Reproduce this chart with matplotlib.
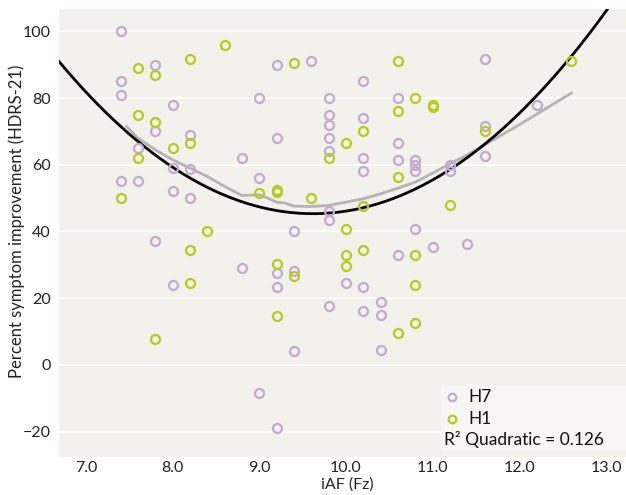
import numpy as np
import matplotlib
matplotlib.use("Agg")
import matplotlib.pyplot as plt
from matplotlib.patches import Rectangle

plt.rcParams['font.family'] = ['Lato', 'DejaVu Sans']

# iAF (Fz) vs percent improvement, H7 group
h7_x = [7.4, 7.8, 7.4, 7.4, 8.0, 7.8, 8.2, 7.6, 8.0, 8.2, 7.4, 7.6, 8.0, 8.2,
        7.8, 8.8, 8.0, 9.0, 9.2, 9.6, 9.0, 9.8, 9.8, 9.8, 9.2, 9.8, 8.8, 9.8,
        9.0, 9.8, 9.8, 10.2, 10.6, 10.2, 10.6, 11.6, 11.6, 10.2, 10.2, 10.6,
        10.8, 10.8, 10.8, 11.6, 11.2, 11.2, 12.2, 9.4, 10.8, 11.0, 10.6, 9.2,
        9.4, 9.2, 10.0, 10.2, 10.4, 9.8, 10.2, 10.4, 9.4, 10.4, 9.2, 11.4]
h7_y = [100, 90, 85, 81, 78, 70, 69, 65, 59, 58.7, 55, 55, 52, 50,
        37.2, 29, 24, -8.5, 90, 91, 80, 80, 75, 72, 68, 68, 62, 64,
        56, 46, 43.3, 85, 80, 74, 66.5, 91.7, 71.5, 62, 58, 61.4,
        61.5, 60, 58, 62.5, 60, 58, 78, 40, 40.6, 35.4, 33, 27.7,
        28.3, 23.5, 24.7, 23.5, 19, 17.8, 16.3, 15, 4.3, 4.6, -19, 36.2]

# H1 group
h1_x = [8.2, 7.6, 7.8, 7.6, 7.8, 8.2, 8.0, 7.6, 7.4, 8.6, 9.4, 10.0, 9.8,
        9.0, 9.2, 9.2, 9.6, 10.6, 10.8, 11.0, 11.0, 10.6, 10.2, 11.6, 10.6,
        10.2, 11.2, 12.6, 8.4, 8.2, 8.2, 7.8, 10.0, 10.8, 10.0, 10.2, 10.0,
        9.2, 9.4, 10.8, 9.2, 10.8, 10.6]
h1_y = [91.7, 89, 87, 75, 72.7, 66.5, 65, 62, 50, 96, 90.5, 66.6, 62,
        51.5, 52.3, 51.9, 50, 91, 80, 77.3, 77.8, 76, 70, 70, 56.4,
        47.5, 48, 91, 40, 34.5, 24.6, 7.8, 40.6, 33, 33, 34.5, 29.7,
        30.2, 26.6, 24, 14.6, 12.6, 9.6]

# smoothed (loess) line
loess_x = [7.47, 7.6, 7.8, 8.0, 8.2, 8.4, 8.6, 8.8, 9.0, 9.1, 9.2, 9.3, 9.4,
           9.6, 9.8, 10.0, 10.2, 10.4, 10.6, 10.8, 11.0, 11.2, 11.4, 11.6,
           12.0, 12.6]
loess_y = [71.5, 68, 64.5, 61.5, 59, 56.5, 53.5, 50.8, 51, 50, 48.8, 48.5,
           47.6, 47.5, 47.8, 48.8, 49.8, 51.3, 53, 54.8, 57.5, 60.3, 63, 66,
           72, 81.5]

r2_label = "R\u00b2 Quadratic = 0.126"
yticks = [-20, 0, 20, 40, 60, 80, 100]
xticks = [7.0, 8.0, 9.0, 10.0, 11.0, 12.0, 13.0]

purple = '#c6a9d1'
green = '#b6cc1c'
bg = '#f2f1ec'
ink = '#222222'

fig = plt.figure(figsize=(6.26, 4.95), dpi=100)
ax = fig.add_axes([59 / 626, 1 - 457 / 495, 567 / 626, 448 / 495])
ax.set_facecolor(bg)

# quadratic fit over all points
all_x = np.array(h7_x + h1_x)
all_y = np.array(h7_y + h1_y)
coef = np.polyfit(all_x, all_y, 2)
fx = np.linspace(6.6, 13.3, 300)
ax.plot(fx, np.polyval(coef, fx), color='black', lw=2.0, zorder=4)
ax.plot(loess_x, loess_y, color='#b7b3b5', lw=2.0, zorder=3)

ax.plot(h7_x, h7_y, 'o', ms=6.5, mfc='none', mec=purple, mew=1.6, zorder=5)
ax.plot(h1_x, h1_y, 'o', ms=6.5, mfc='none', mec=green, mew=1.6, zorder=5)

ax.set_xlim(6.69, 13.23)
ax.set_ylim(-27.6, 106.7)
ax.set_xticks(xticks)
ax.set_xticklabels([f"{t:.1f}" for t in xticks])
ax.set_yticks(yticks)
ax.grid(axis='y', color='white', lw=1.2)
ax.set_axisbelow(True)
for s in ax.spines.values():
    s.set_visible(False)
ax.tick_params(length=0, labelsize=11.5, labelcolor=ink)
ax.tick_params(axis='x', pad=3)
ax.tick_params(axis='y', pad=6)

# axis titles placed on the figure
fig.text(347 / 626, 1 - 485 / 495, "iAF (Fz)", fontsize=11.5, color=ink,
         ha='center', va='center')
fig.text(17 / 626, 1 - 221 / 495, "Percent symptom improvement (HDRS-21)",
         fontsize=12, color=ink, rotation=90, ha='center', va='center')

# legend box drawn by hand
ax.add_patch(Rectangle((0.674, 0.016), 0.326, 0.145, transform=ax.transAxes,
                       facecolor='#f7f6f4', edgecolor='none', zorder=6))
ax.plot([0.693], [0.134], 'o', ms=5.5, mfc='none', mec=purple, mew=1.6,
        transform=ax.transAxes, zorder=7, clip_on=False)
ax.plot([0.693], [0.085], 'o', ms=5.5, mfc='none', mec=green, mew=1.6,
        transform=ax.transAxes, zorder=7, clip_on=False)
ax.text(0.722, 0.134, "H7", transform=ax.transAxes, fontsize=12.5,
        va='center', ha='left', color='#111111', zorder=7)
ax.text(0.722, 0.085, "H1", transform=ax.transAxes, fontsize=12.5,
        va='center', ha='left', color='#111111', zorder=7)
ax.text(0.679, 0.038, r2_label, transform=ax.transAxes, fontsize=12.5,
        va='center', ha='left', color='#111111', zorder=7)

fig.savefig('out.png', dpi=100)
